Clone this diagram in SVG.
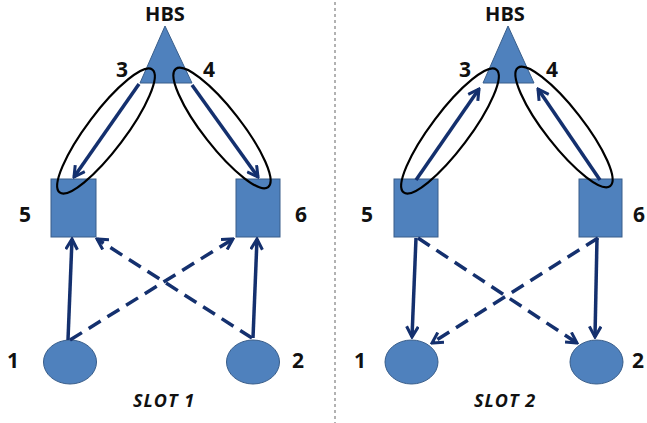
<svg xmlns="http://www.w3.org/2000/svg" width="647" height="423" viewBox="0 0 647 423">
<style>
.lbl{font-family:"Open Sans","DejaVu Sans",sans-serif;font-weight:bold;fill:#111;text-anchor:middle}
.num{font-size:21px}
.hbs{font-size:20px}
.slot{font-size:18px;font-style:italic;letter-spacing:1px}
.shape{fill:#4f81bd;stroke:#385d8a;stroke-width:1}
.ring{fill:none;stroke:#000;stroke-width:2.2}
.ar{stroke:#14306e;stroke-width:3.5;fill:none;marker-end:url(#ah)}
.dash{stroke-dasharray:14 8}
.sep{stroke:#999;stroke-width:1.5;stroke-dasharray:3 3}
</style>
<defs>
<marker id="ah" viewBox="0 0 12 12" markerWidth="14" markerHeight="14" refX="10.5" refY="6" orient="auto" markerUnits="userSpaceOnUse">
<path d="M1.5,1 L10.5,6 L1.5,11" fill="none" stroke="#14306e" stroke-width="2.6" stroke-dasharray="none" stroke-linejoin="miter"/>
</marker>
</defs>
<line class="sep" x1="335" y1="2" x2="335" y2="423"/>

<!-- SLOT 1 -->
<g id="s1-hbs"><polygon class="shape" points="165,26 140,83 192,83"/><text class="lbl hbs" x="165" y="21">HBS</text></g>
<g id="s1-n5"><rect class="shape" x="51" y="179" width="45" height="58"/><text class="lbl num" x="25" y="222">5</text></g>
<g id="s1-n6"><rect class="shape" x="236" y="179" width="44" height="58"/><text class="lbl num" x="301" y="222">6</text></g>
<g id="s1-n1"><ellipse class="shape" cx="70" cy="362" rx="26.5" ry="22"/><text class="lbl num" x="13" y="368">1</text></g>
<g id="s1-n2"><ellipse class="shape" cx="253" cy="362" rx="26.5" ry="22"/><text class="lbl num" x="298" y="368">2</text></g>
<g id="s1-l3"><ellipse class="ring" cx="106" cy="131" rx="77" ry="19" transform="rotate(-53 106 131)"/><text class="lbl num" x="122" y="77">3</text></g>
<g id="s1-l4"><ellipse class="ring" cx="222" cy="128" rx="75" ry="19" transform="rotate(52 222 128)"/><text class="lbl num" x="209" y="77">4</text></g>
<text class="lbl slot" x="164" y="407">SLOT 1</text>
<g id="s1-connectors">
<line class="ar" x1="139" y1="84" x2="74" y2="177"/>
<line class="ar" x1="192" y1="85" x2="258" y2="177"/>
<line class="ar" x1="68" y1="340" x2="72" y2="239"/>
<line class="ar" x1="253" y1="338" x2="257" y2="239"/>
<line class="ar dash" x1="70" y1="340" x2="233" y2="239"/>
<line class="ar dash" x1="252" y1="338" x2="97" y2="239"/>
</g>

<!-- SLOT 2 -->
<g id="s2-hbs"><polygon class="shape" points="508,26 483,83 534,83"/><text class="lbl hbs" x="505" y="21">HBS</text></g>
<g id="s2-n5"><rect class="shape" x="394" y="179" width="44" height="58"/><text class="lbl num" x="367" y="222">5</text></g>
<g id="s2-n6"><rect class="shape" x="579" y="179" width="43" height="58"/><text class="lbl num" x="639" y="222">6</text></g>
<g id="s2-n1"><ellipse class="shape" cx="411.5" cy="362" rx="26.5" ry="22"/><text class="lbl num" x="360" y="368">1</text></g>
<g id="s2-n2"><ellipse class="shape" cx="596.5" cy="362" rx="26.5" ry="22"/><text class="lbl num" x="638" y="368">2</text></g>
<g id="s2-l3"><ellipse class="ring" cx="450" cy="131" rx="77" ry="19" transform="rotate(-53 450 131)"/><text class="lbl num" x="465" y="77">3</text></g>
<g id="s2-l4"><ellipse class="ring" cx="564" cy="127" rx="75" ry="19" transform="rotate(52 564 127)"/><text class="lbl num" x="552" y="77">4</text></g>
<text class="lbl slot" x="505" y="407">SLOT 2</text>
<g id="s2-connectors">
<line class="ar" x1="416" y1="180" x2="479" y2="89"/>
<line class="ar" x1="600" y1="180" x2="538" y2="89"/>
<line class="ar" x1="416" y1="238" x2="412" y2="337"/>
<line class="ar" x1="597" y1="238" x2="595" y2="337"/>
<line class="ar dash" x1="418" y1="238" x2="577" y2="343"/>
<line class="ar dash" x1="598" y1="238" x2="432" y2="343"/>
</g>
</svg>
